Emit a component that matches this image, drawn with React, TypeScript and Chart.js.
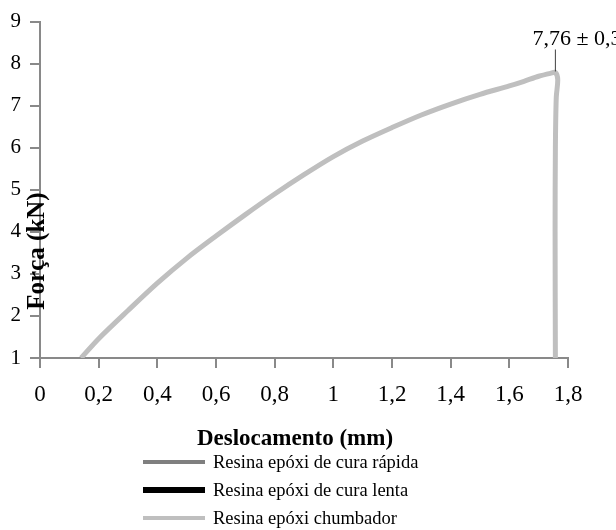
import React, { useEffect, useRef } from "react";
import { Chart, registerables } from "chart.js";

Chart.register(...registerables);

const seriesNames = [
  "Resina epóxi de cura rápida",
  "Resina epóxi de cura lenta",
  "Resina epóxi chumbador",
];
const seriesColors = ["#7F7F7F", "#000000", "#BFBFBF"];
const seriesWidths = [4, 6, 4];

// Only the "chumbador" curve is visible in the picture
const rapidaX: number[] = [];
const rapidaY: number[] = [];
const lentaX: number[] = [];
const lentaY: number[] = [];
const chumbadorX = [
  0.14, 0.2, 0.3, 0.4, 0.5, 0.6, 0.7, 0.8, 0.9, 1.0, 1.1, 1.2, 1.3, 1.4, 1.5,
  1.6, 1.65, 1.7, 1.74, 1.757, 1.765, 1.76, 1.757, 1.756, 1.757,
];
const chumbadorY = [
  1.0, 1.46, 2.13, 2.78, 3.37, 3.9, 4.41, 4.9, 5.36, 5.79, 6.16, 6.48, 6.78,
  7.04, 7.27, 7.47, 7.58, 7.7, 7.77, 7.79, 7.62, 7.2, 6.0, 4.0, 1.0,
];

const xTicks = [0, 0.2, 0.4, 0.6, 0.8, 1, 1.2, 1.4, 1.6, 1.8];
const yTicks = [1, 2, 3, 4, 5, 6, 7, 8, 9];
const xTitle = "Deslocamento (mm)";
const yTitle = "Força (kN)";
const peakLabel = "7,76 ± 0,32";

const fmt = (v: number) => String(Math.round(v * 10) / 10).replace(".", ",");

const SERIF = "'Liberation Serif', 'Times New Roman', serif";

const extrasPlugin = {
  id: "extras",
  afterDraw(chart: any) {
    const ctx = chart.ctx;
    const xs = chart.scales.x;
    const ys = chart.scales.y;
    ctx.save();
    // y title
    ctx.fillStyle = "#000";
    ctx.font = `bold 25px ${SERIF}`;
    ctx.textAlign = "center";
    ctx.textBaseline = "middle";
    ctx.translate(38, 251);
    ctx.rotate(-Math.PI / 2);
    ctx.fillText(yTitle, 0, 0);
    ctx.setTransform(1, 0, 0, 1, 0, 0);
    // x title
    ctx.font = `bold 23px ${SERIF}`;
    ctx.textAlign = "center";
    ctx.textBaseline = "middle";
    ctx.fillText(xTitle, 295, 439);
    // peak annotation
    let pi = 0;
    chumbadorY.forEach((v, i) => {
      if (v > chumbadorY[pi]) pi = i;
    });
    const px = xs.getPixelForValue(chumbadorX[pi]);
    const py = ys.getPixelForValue(chumbadorY[pi]);
    ctx.strokeStyle = "#404040";
    ctx.lineWidth = 1;
    ctx.beginPath();
    ctx.moveTo(px, py - 1);
    ctx.lineTo(px, py - 23);
    ctx.stroke();
    ctx.font = `22px ${SERIF}`;
    ctx.textAlign = "left";
    ctx.textBaseline = "alphabetic";
    ctx.fillText(peakLabel, px - 23, py - 27);
    // legend
    chart.data.datasets.forEach((ds: any, i: number) => {
      const cy = 462 + i * 28;
      ctx.strokeStyle = ds.borderColor;
      ctx.lineWidth = seriesWidths[i];
      ctx.beginPath();
      ctx.moveTo(143, cy);
      ctx.lineTo(205, cy);
      ctx.stroke();
      ctx.fillStyle = "#000";
      ctx.font = `18.5px ${SERIF}`;
      ctx.textAlign = "left";
      ctx.textBaseline = "middle";
      ctx.fillText(ds.label, 213, cy + 1);
    });
    ctx.restore();
  },
};

export default function App() {
  const ref = useRef<HTMLCanvasElement>(null);
  useEffect(() => {
    if (!ref.current) return;
    const mk = (xa: number[], ya: number[]) => xa.map((x, i) => ({ x, y: ya[i] }));
    const chart = new Chart(ref.current, {
      type: "line",
      data: {
        datasets: [
          { label: seriesNames[0], data: mk(rapidaX, rapidaY) },
          { label: seriesNames[1], data: mk(lentaX, lentaY) },
          { label: seriesNames[2], data: mk(chumbadorX, chumbadorY) },
        ].map((d, i) => ({
          ...d,
          borderColor: seriesColors[i],
          backgroundColor: seriesColors[i],
          borderWidth: seriesWidths[i] + (i === 2 ? 1 : 0),
          pointRadius: 0,
          tension: 0.3,
          fill: false,
        })),
      },
      options: {
        animation: false,
        responsive: false,
        layout: { padding: { left: 0, top: 21, right: 48, bottom: 0 } },
        plugins: { legend: { display: false }, tooltip: { enabled: false } },
        scales: {
          x: {
            type: "linear",
            min: 0,
            max: 1.8,
            afterBuildTicks: (s: any) => {
              s.ticks = xTicks.map((v) => ({ value: v }));
            },
            afterFit: (s: any) => {
              s.height = 172;
            },
            grid: {
              drawOnChartArea: false,
              drawTicks: true,
              tickLength: 10,
              color: "#898989",
              lineWidth: 2,
            },
            border: { display: true, color: "#898989", width: 2 },
            ticks: {
              color: "#000",
              padding: 13,
              maxRotation: 0,
              font: { family: SERIF, size: 23 },
              callback: (v: any) => fmt(Number(v)),
            },
          },
          y: {
            type: "linear",
            min: 1,
            max: 9,
            afterBuildTicks: (s: any) => {
              s.ticks = yTicks.map((v) => ({ value: v }));
            },
            afterFit: (s: any) => {
              s.width = 40;
            },
            grid: {
              drawOnChartArea: false,
              drawTicks: true,
              tickLength: 10,
              color: "#898989",
              lineWidth: 2,
            },
            border: { display: true, color: "#898989", width: 2 },
            ticks: {
              color: "#000",
              padding: 9,
              font: { family: SERIF, size: 21 },
              callback: (v: any) => fmt(Number(v)),
            },
          },
        },
      },
      plugins: [extrasPlugin],
    });
    return () => chart.destroy();
  }, []);
  return (
    <canvas
      ref={ref}
      width={616}
      height={530}
      style={{ position: "absolute", left: 0, top: 0, width: 616, height: 530 }}
    />
  );
}
